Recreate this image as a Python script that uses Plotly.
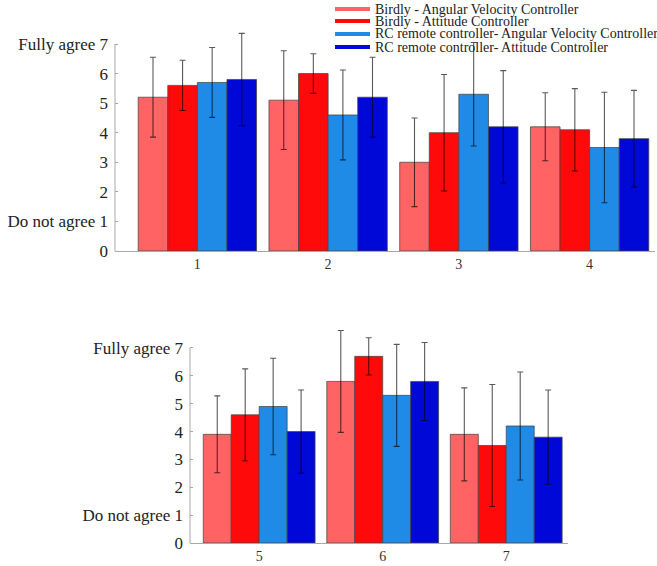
import plotly.graph_objects as go

series_names = [
    "Birdly - Angular Velocity Controller",
    "Birdly - Attitude Controller",
    "RC remote controller- Angular Velocity Controller",
    "RC remote controller- Attitude Controller",
]
colors = ["#ff6363", "#ff0a0a", "#1f8be6", "#0008d8"]

top_questions = [1, 2, 3, 4]
bottom_questions = [5, 6, 7]

# means per series for questions 1-4
top_means = [
    [5.2, 5.1, 3.0, 4.2],
    [5.6, 6.0, 4.0, 4.1],
    [5.7, 4.6, 5.3, 3.5],
    [5.8, 5.2, 4.2, 3.8],
]
top_sd = [
    [1.35, 1.67, 1.5, 1.15],
    [0.85, 0.67, 1.97, 1.39],
    [1.18, 1.52, 1.75, 1.87],
    [1.56, 1.35, 1.9, 1.63],
]
# means per series for questions 5-7
bottom_means = [
    [3.9, 5.8, 3.9],
    [4.6, 6.7, 3.5],
    [4.9, 5.3, 4.2],
    [4.0, 5.8, 3.8],
]
bottom_sd = [
    [1.38, 1.83, 1.67],
    [1.65, 0.67, 2.19],
    [1.73, 1.83, 1.94],
    [1.49, 1.4, 1.69],
]

y_tickvals = [0, 1, 2, 3, 4, 5, 6, 7]
y_ticktext = ["0", "Do not agree 1", "2", "3", "4", "5", "6", "Fully agree 7"]

W, H = 657, 566
fig = go.Figure()

for i in range(4):
    fig.add_trace(go.Bar(
        x=top_questions, y=top_means[i], name=series_names[i],
        marker=dict(color=colors[i], line=dict(color="rgba(70,70,70,0.75)", width=1)),
        error_y=dict(type="data", array=top_sd[i], color="rgba(0,0,0,0.65)", thickness=1.1, width=3),
        xaxis="x", yaxis="y", showlegend=False,
    ))
for i in range(4):
    fig.add_trace(go.Bar(
        x=bottom_questions, y=bottom_means[i], name=series_names[i],
        marker=dict(color=colors[i], line=dict(color="rgba(70,70,70,0.75)", width=1)),
        error_y=dict(type="data", array=bottom_sd[i], color="rgba(0,0,0,0.65)", thickness=1.1, width=3),
        xaxis="x2", yaxis="y2", showlegend=False,
    ))

serif = "Liberation Serif, Times New Roman, serif"
axis_line = "#a8a8a8"

# pixel layout: top panel 0 at y=251, 7 at y=44; bottom panel 0 at 543, 7 at 348
top_max = 7.45
bot_max = 7.75
top_unit = (251 - 44) / 7
bot_unit = (543 - 348) / 7
top_dom = [1 - 251 / H, 1 - (251 - top_max * top_unit) / H]
bot_dom = [1 - 543 / H, 1 - (543 - bot_max * bot_unit) / H]

yaxis_common = dict(tickvals=y_tickvals, ticktext=y_ticktext, ticks="inside", ticklen=3,
                    tickcolor=axis_line, tickfont=dict(size=17, color="#222"),
                    ticklabelstandoff=6, automargin=False, showgrid=False,
                    zeroline=False, showline=False)
xaxis_common = dict(ticks="", tickfont=dict(size=14, color="#333"), automargin=False,
                    showgrid=False, zeroline=False, showline=True, linecolor=axis_line, linewidth=1)

fig.update_layout(
    width=W, height=H,
    margin=dict(l=0, r=0, t=0, b=0),
    paper_bgcolor="white", plot_bgcolor="white",
    barmode="group", bargap=0.095, bargroupgap=0,
    font=dict(family=serif, color="#222"),
    xaxis=dict(domain=[115 / W, 655 / W], range=[0.37, 4.5], tickvals=top_questions,
               anchor="y", **xaxis_common),
    yaxis=dict(domain=top_dom, range=[0, top_max], anchor="x", **yaxis_common),
    xaxis2=dict(domain=[190 / W, 568 / W], range=[4.44, 7.5], tickvals=bottom_questions,
                anchor="y2", **xaxis_common),
    yaxis2=dict(domain=bot_dom, range=[0, bot_max], anchor="x2", **yaxis_common),
)

# y axis lines only from 0 to 7
fig.add_shape(type="line", xref="x domain", yref="y", x0=0, x1=0, y0=0, y1=7,
              line=dict(color=axis_line, width=1))
fig.add_shape(type="line", xref="x2 domain", yref="y2", x0=0, x1=0, y0=0, y1=7,
              line=dict(color=axis_line, width=1))

# legend drawn as line samples + text
legend_y = [9, 21, 34, 47]
for i in range(4):
    yp = 1 - legend_y[i] / H
    fig.add_shape(type="line", xref="paper", yref="paper",
                  x0=335 / W, x1=370 / W, y0=yp, y1=yp,
                  line=dict(color=colors[i], width=4))
    fig.add_annotation(xref="paper", yref="paper", x=373 / W, y=yp,
                       xanchor="left", yanchor="middle", showarrow=False,
                       text=series_names[i], font=dict(family=serif, size=14, color="#222"))

fig.write_html("out.html", config={"displayModeBar": False},
               post_script="document.body.style.margin='0';document.body.style.overflow='hidden';")
